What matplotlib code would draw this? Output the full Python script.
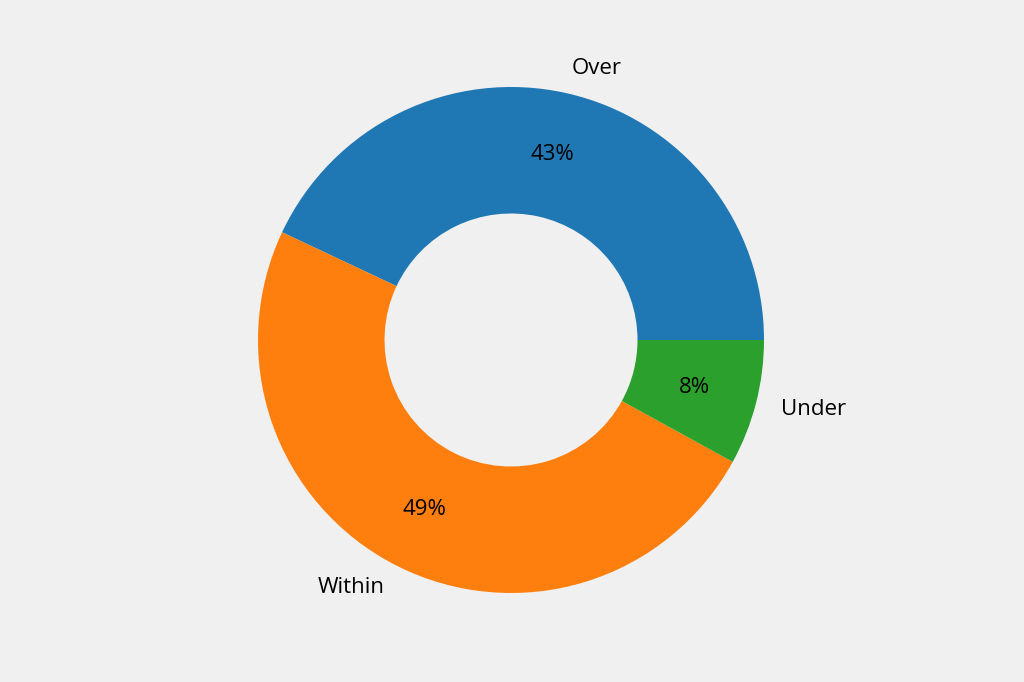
import matplotlib
matplotlib.use("Agg")
import matplotlib.pyplot as plt

labels = ["Over", "Within", "Under"]
values = [43, 49, 8]
colors = ["#1f77b4", "#ff7f0e", "#2ca02c"]

plt.rcParams['font.family'] = ['Open Sans', 'DejaVu Sans']
fig = plt.figure(figsize=(10.24, 6.82), dpi=100, facecolor="#f0f0f0")
h = 506 * 1.25 / 682
w = 506 * 1.25 / 1024
ax = fig.add_axes([511/1024 - w/2, 1 - 340/682 - h/2, w, h])
ax.set_facecolor("#f0f0f0")
ax.pie(values, labels=labels, colors=colors, autopct="%1.0f%%", startangle=0,
       counterclock=True, pctdistance=0.75, labeldistance=1.1,
       wedgeprops=dict(width=0.5), textprops=dict(fontsize=16))
ax.set_aspect("equal")
fig.savefig("out.png", dpi=100, facecolor=fig.get_facecolor())
